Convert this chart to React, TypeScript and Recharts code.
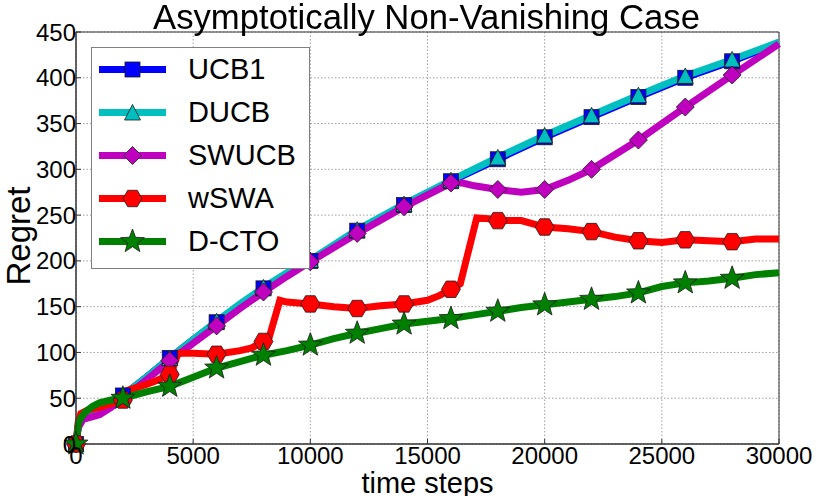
import React from 'react';
import { LineChart, Line, XAxis, YAxis, CartesianGrid, Legend, ReferenceArea, Label } from 'recharts';

const xTicks = [0, 5000, 10000, 15000, 20000, 25000, 30000];
const yTicks = [0, 50, 100, 150, 200, 250, 300, 350, 400, 450];
const seriesNames = ['UCB1', 'DUCB', 'SWUCB', 'wSWA', 'D-CTO'];

const ucbSteps = [0, 100, 300, 600, 1000, 1500, 2000, 3000, 4000, 5000, 6000, 7000, 8000, 9000, 10000, 12000, 14000, 16000, 18000, 20000, 22000, 24000, 26000, 28000, 30000];
const ucb1Values = [0, 20, 30, 33, 38, 45, 53, 73, 94, 114, 133, 152, 170, 186, 200, 233, 261, 287, 311, 335, 357, 379, 400, 418, 438];
const ducbValues = [0, 20, 30, 33, 38, 45, 53, 73, 94, 114, 134, 153, 171, 187, 201, 234, 262, 288, 313, 337, 359, 381, 402, 420, 439];

const swucbSteps = [0, 100, 300, 600, 1000, 1500, 2000, 3000, 4000, 5000, 6000, 7000, 8000, 9000, 10000, 12000, 14000, 16000, 16500, 17000, 18000, 19000, 20000, 21000, 22000, 24000, 26000, 28000, 30000];
const swucbValues = [0, 18, 27, 29, 32, 40, 50, 70, 91, 110, 129, 148, 166, 183, 199, 230, 259, 285, 285, 282, 278, 275, 278, 288, 300, 332, 368, 403, 437];

const wswaSteps = [0, 100, 200, 500, 1000, 1500, 2000, 2150, 2500, 3000, 3500, 4000, 4100, 4350, 5000, 6000, 7000, 7500, 8000, 8250, 8700, 9000, 10000, 11000, 12000, 13000, 14000, 15000, 15500, 16000, 16400, 17100, 17600, 18000, 19000, 20000, 21000, 22000, 23000, 24000, 25000, 26000, 27000, 28000, 29000, 30000];
const wswaValues = [0, 25, 33, 37, 40, 44, 48, 58, 61, 65, 70, 76, 80, 99, 99, 98, 102, 105, 112, 117, 157, 155, 153, 150, 148, 151, 153, 157, 162, 169, 175, 247, 246, 244, 244, 237, 235, 232, 226, 222, 220, 223, 222, 221, 224, 224];

const dctoSteps = [0, 100, 200, 400, 700, 1000, 1500, 2000, 3000, 4000, 5000, 6000, 7000, 8000, 9000, 10000, 11000, 12000, 13000, 14000, 15000, 16000, 17000, 18000, 19000, 20000, 21000, 22000, 23000, 24000, 25000, 26000, 27000, 28000, 29000, 30000];
const dctoValues = [0, 22, 28, 35, 41, 45, 48, 50, 57, 63, 73, 83, 90, 97, 102, 108, 115, 121, 126, 131, 134, 137, 141, 145, 149, 152, 155, 158, 161, 165, 172, 176, 178, 181, 185, 187];

const toPoints = (steps: number[], values: number[]) => steps.map((x, i) => ({ x, y: values[i] }));

const colors: Record<string, string> = {
  UCB1: '#0000ff',
  DUCB: '#00bfbf',
  SWUCB: '#bf00bf',
  wSWA: '#ff0000',
  'D-CTO': '#008000',
};

const shapes: Record<string, string> = {
  UCB1: 'square',
  DUCB: 'triangle',
  SWUCB: 'diamond',
  wSWA: 'hexagon',
  'D-CTO': 'star',
};

const edge = { stroke: '#1a1a1a', strokeWidth: 0.8 };

function marker(shape: string, cx: number, cy: number, color: string) {
  if (shape === 'square') {
    return <rect x={cx - 7.5} y={cy - 7.5} width={15} height={15} fill={color} {...edge} />;
  }
  if (shape === 'triangle') {
    return <polygon points={`${cx},${cy - 8} ${cx - 8},${cy + 7.5} ${cx + 8},${cy + 7.5}`} fill={color} {...edge} />;
  }
  if (shape === 'diamond') {
    return <polygon points={`${cx},${cy - 9} ${cx + 9},${cy} ${cx},${cy + 9} ${cx - 9},${cy}`} fill={color} {...edge} />;
  }
  if (shape === 'hexagon') {
    const r = 9.5;
    const pts = [0, 60, 120, 180, 240, 300]
      .map((a) => `${cx + r * Math.cos((a * Math.PI) / 180)},${cy + r * Math.sin((a * Math.PI) / 180)}`)
      .join(' ');
    return <polygon points={pts} fill={color} {...edge} />;
  }
  const pts: string[] = [];
  for (let i = 0; i < 10; i++) {
    const r = i % 2 === 0 ? 12.5 : 5.2;
    const a = -Math.PI / 2 + (i * Math.PI) / 5;
    pts.push(`${cx + r * Math.cos(a)},${cy + r * Math.sin(a)}`);
  }
  return <polygon points={pts.join(' ')} fill={color} {...edge} />;
}

// markers only every 2000 steps, like the original plot
const renderDot = (name: string) => (props: any) => {
  const { cx, cy, payload, index } = props;
  const key = `${name}-${index}`;
  if (payload.x % 2000 !== 0 || payload.x >= 30000 || cx == null) return <g key={key} />;
  return <g key={key}>{marker(shapes[name], cx, cy, colors[name])}</g>;
};

const renderLegend = (props: any) => {
  const items = [...(props.payload || [])].sort(
    (a: any, b: any) => seriesNames.indexOf(a.value) - seriesNames.indexOf(b.value)
  );
  return (
    <div style={{ width: 219, height: 222, background: '#fff', border: '1px solid #808080', boxSizing: 'border-box' }}>
      {items.map((entry: any) => (
        <div key={entry.value} style={{ display: 'flex', alignItems: 'center', height: 43 }}>
          <svg width={96} height={43} style={{ display: 'block' }}>
            <line x1={7} x2={74} y1={21.5} y2={21.5} stroke={colors[entry.value]} strokeWidth={7} />
            {marker(shapes[entry.value], 40.5, 21.5, colors[entry.value])}
          </svg>
          <span style={{ fontFamily: '"Liberation Sans", Arial, sans-serif', fontSize: 29, color: '#000', lineHeight: '43px' }}>
            {entry.value}
          </span>
        </div>
      ))}
    </div>
  );
};

const tickFont = { fontFamily: '"Liberation Sans Narrow", "Arial Narrow", "Liberation Sans", sans-serif', fontSize: 24, fill: '#000' };

export default function App() {
  return (
    <div style={{ position: 'fixed', left: 0, top: 0, width: 822, height: 496, background: '#fff' }}>
      <div
        style={{
          position: 'absolute',
          left: 0,
          top: 0,
          width: 853,
          textAlign: 'center',
          fontFamily: '"Liberation Sans", Arial, sans-serif',
          fontSize: 34.7,
          lineHeight: '34px',
          color: '#000',
          zIndex: 2,
        }}
      >
        Asymptotically Non-Vanishing Case
      </div>
      <LineChart width={822} height={496} margin={{ top: 32, right: 43, bottom: 0, left: 0 }}>
        <CartesianGrid stroke="#a0a0a0" strokeDasharray="1.5 2" />
        <XAxis
          dataKey="x"
          type="number"
          domain={[0, 30000]}
          ticks={xTicks}
          allowDuplicatedCategory={false}
          height={52}
          tick={tickFont}
          tickSize={-5}
          tickMargin={8}
          tickLine={{ stroke: '#333' }}
          axisLine={{ stroke: '#333' }}
        >
          <Label
            value="time steps"
            position="insideBottom"
            offset={3}
            style={{ fontFamily: '"Liberation Sans", Arial, sans-serif', fontSize: 29, fill: '#000' }}
          />
        </XAxis>
        <YAxis
          type="number"
          domain={[0, 450]}
          ticks={yTicks}
          width={76}
          tick={tickFont}
          tickSize={-5}
          tickMargin={5}
          tickLine={{ stroke: '#333' }}
          axisLine={{ stroke: '#333' }}
        >
          <Label
            content={(p: any) => {
              const vb = p.viewBox || { x: 0, y: 32, width: 76, height: 412 };
              const tx = vb.x + 30;
              const ty = vb.y + vb.height / 2 - 2;
              return (
                <text
                  x={tx}
                  y={ty}
                  transform={`rotate(-90 ${tx} ${ty})`}
                  textAnchor="middle"
                  fontFamily='"Liberation Sans", Arial, sans-serif'
                  fontSize={33}
                  fill="#000"
                >
                  Regret
                </text>
              );
            }}
          />
        </YAxis>
        <ReferenceArea x1={0} x2={30000} y1={0} y2={450} fill="none" stroke="#333" strokeWidth={1} />
        <Line data={toPoints(ucbSteps, ucb1Values)} dataKey="y" name="UCB1" type="linear" stroke={colors.UCB1} strokeWidth={7} dot={renderDot('UCB1')} activeDot={false} isAnimationActive={false} />
        <Line data={toPoints(ucbSteps, ducbValues)} dataKey="y" name="DUCB" type="linear" stroke={colors.DUCB} strokeWidth={7} dot={renderDot('DUCB')} activeDot={false} isAnimationActive={false} />
        <Line data={toPoints(swucbSteps, swucbValues)} dataKey="y" name="SWUCB" type="linear" stroke={colors.SWUCB} strokeWidth={7} dot={renderDot('SWUCB')} activeDot={false} isAnimationActive={false} />
        <Line data={toPoints(wswaSteps, wswaValues)} dataKey="y" name="wSWA" type="linear" stroke={colors.wSWA} strokeWidth={7} dot={renderDot('wSWA')} activeDot={false} isAnimationActive={false} />
        <Line data={toPoints(dctoSteps, dctoValues)} dataKey="y" name="D-CTO" type="linear" stroke={colors['D-CTO']} strokeWidth={7} dot={renderDot('D-CTO')} activeDot={false} isAnimationActive={false} />
        <Legend
          layout="vertical"
          align="center"
          verticalAlign="middle"
          content={renderLegend}
          wrapperStyle={{ left: 91, top: 47, width: 219, height: 222 }}
        />
      </LineChart>
    </div>
  );
}
